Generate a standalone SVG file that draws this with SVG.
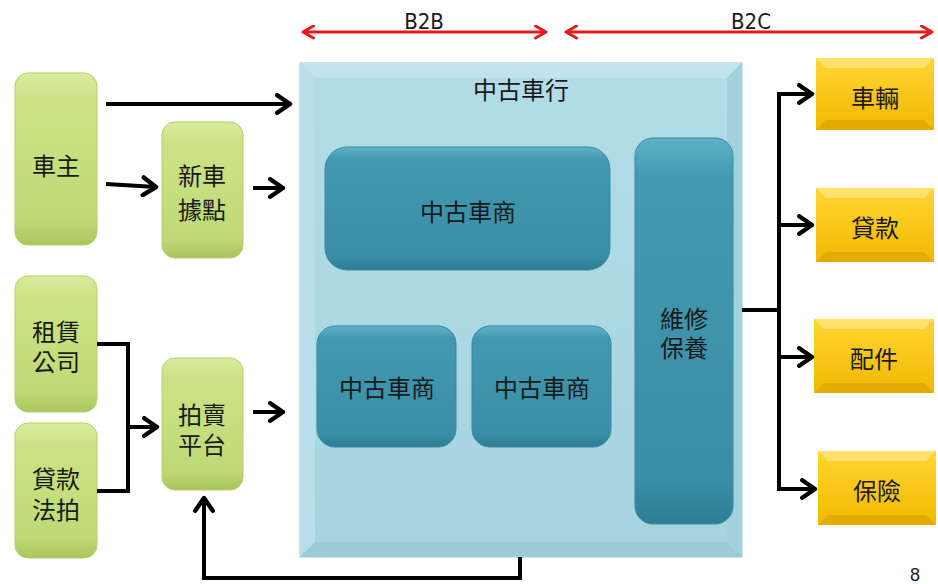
<svg xmlns="http://www.w3.org/2000/svg" width="938" height="584" viewBox="0 0 938 584">
<defs>
<style>
text{font-family:"Noto Sans CJK TC","Noto Sans",sans-serif;fill:#1a1a1a;text-anchor:middle;dominant-baseline:central}
.lbl{font-size:24px}
.en{font-family:"DejaVu Sans Condensed","DejaVu Sans",sans-serif;font-size:22px;dominant-baseline:alphabetic}
.g{fill:url(#gG);stroke:#b5cf6a;stroke-width:1}
.t{fill:url(#gT);stroke:#3a8aa1;stroke-width:1}
.y{fill:url(#gY)}
.conn{fill:none;stroke:#000;stroke-width:4}
.red{fill:none;stroke:#e21a1a;stroke-width:3}
</style>
<linearGradient id="gG" x1="0" y1="0" x2="0" y2="1">
<stop offset="0" stop-color="#d9ec9c"/><stop offset="0.15" stop-color="#cbe386"/><stop offset="0.85" stop-color="#bfd977"/><stop offset="1" stop-color="#a9c65c"/>
</linearGradient>
<linearGradient id="gT" x1="0" y1="0" x2="0" y2="1">
<stop offset="0" stop-color="#5fb2c8"/><stop offset="0.1" stop-color="#4299b0"/><stop offset="0.88" stop-color="#3a8ea6"/><stop offset="1" stop-color="#2e7d94"/>
</linearGradient>
<linearGradient id="gY" x1="0" y1="0" x2="0" y2="1">
<stop offset="0" stop-color="#ffd633"/><stop offset="1" stop-color="#f2b800"/>
</linearGradient>
<linearGradient id="gB" x1="0" y1="0" x2="0" y2="1">
<stop offset="0" stop-color="#b2dde8"/><stop offset="1" stop-color="#a6d3df"/>
</linearGradient>
<marker id="ah" viewBox="0 0 10 10" refX="8" refY="5" markerWidth="5.5" markerHeight="5.5" orient="auto" markerUnits="strokeWidth">
<path d="M2.2,1 L8,5 L2.2,9" fill="none" stroke="#000" stroke-width="2" stroke-linecap="round" stroke-linejoin="round"/>
</marker>
<marker id="rh" viewBox="0 0 10 10" refX="8" refY="5" markerWidth="5" markerHeight="5" orient="auto-start-reverse" markerUnits="strokeWidth">
<path d="M1,1 L8,5 L1,9" fill="none" stroke="#e21a1a" stroke-width="2" stroke-linecap="round" stroke-linejoin="round"/>
</marker>
</defs>
<rect width="938" height="584" fill="#fff"/>

<g id="scope">
<line class="red" x1="303" y1="32" x2="546" y2="32" marker-start="url(#rh)" marker-end="url(#rh)"/>
<line class="red" x1="566" y1="32" x2="932" y2="32" marker-start="url(#rh)" marker-end="url(#rh)"/>
<text class="en" x="424" y="29">B2B</text>
<text class="en" x="751" y="29">B2C</text>
</g>

<g id="dealer-lot">
<rect x="300" y="63" width="442" height="494" fill="#a8d4df" stroke="#98c8d4"/>
<polygon points="300,63 742,63 727,78 315,78" fill="#c2e4ed"/>
<polygon points="300,63 315,78 315,542 300,557" fill="#b8dfe9"/>
<polygon points="742,63 727,78 727,542 742,557" fill="#a2d0dc"/>
<polygon points="300,557 315,542 727,542 742,557" fill="#9ccbd7"/>
<rect x="315" y="78" width="412" height="464" fill="url(#gB)"/>
<text class="lbl" x="521" y="88">中古車行</text>
</g>

<g id="dealer-1"><rect class="t" x="325" y="147" width="285" height="123" rx="22"/><text class="lbl" x="468" y="210">中古車商</text></g>
<g id="dealer-2"><rect class="t" x="317" y="326" width="139" height="121" rx="18"/><text class="lbl" x="387" y="386">中古車商</text></g>
<g id="dealer-3"><rect class="t" x="472" y="326" width="139" height="121" rx="18"/><text class="lbl" x="542" y="386">中古車商</text></g>
<g id="maintenance"><rect class="t" x="635" y="138" width="98" height="386" rx="18"/><text class="lbl" x="684" y="317"><tspan x="684">維修</tspan><tspan x="684" dy="29">保養</tspan></text></g>

<g id="owner"><rect class="g" x="15" y="73" width="82" height="172" rx="13"/><text class="lbl" x="56" y="164">車主</text></g>
<g id="new-car"><rect class="g" x="162" y="122" width="81" height="136" rx="13"/><text class="lbl" x="202" y="174"><tspan x="202">新車</tspan><tspan x="202" dy="34">據點</tspan></text></g>
<g id="leasing"><rect class="g" x="15" y="276" width="82" height="136" rx="13"/><text class="lbl" x="56" y="330"><tspan x="56">租賃</tspan><tspan x="56" dy="30">公司</tspan></text></g>
<g id="loan-auction"><rect class="g" x="15" y="423" width="82" height="135" rx="13"/><text class="lbl" x="56" y="477"><tspan x="56">貸款</tspan><tspan x="56" dy="31">法拍</tspan></text></g>
<g id="auction"><rect class="g" x="162" y="358" width="81" height="132" rx="13"/><text class="lbl" x="202" y="413"><tspan x="202">拍賣</tspan><tspan x="202" dy="30">平台</tspan></text></g>

<g id="vehicle"><rect class="y" x="816" y="58" width="118" height="72"/><polygon points="816,58 934,58 924,68 826,68" fill="#ffe47a" opacity="0.8"/><polygon points="816,130 934,130 924,120 826,120" fill="#d9a200" opacity="0.6"/><text class="lbl" x="875" y="96">車輛</text></g>
<g id="loan"><rect class="y" x="816" y="188" width="118" height="74"/><polygon points="816,188 934,188 924,198 826,198" fill="#ffe47a" opacity="0.8"/><polygon points="816,262 934,262 924,252 826,252" fill="#d9a200" opacity="0.6"/><text class="lbl" x="875" y="226">貸款</text></g>
<g id="parts"><rect class="y" x="814" y="319" width="120" height="74"/><polygon points="814,319 934,319 924,329 824,329" fill="#ffe47a" opacity="0.8"/><polygon points="814,393 934,393 924,383 824,383" fill="#d9a200" opacity="0.6"/><text class="lbl" x="874" y="357">配件</text></g>
<g id="insurance"><rect class="y" x="818" y="451" width="118" height="74"/><polygon points="818,451 936,451 926,461 828,461" fill="#ffe47a" opacity="0.8"/><polygon points="818,525 936,525 926,515 828,515" fill="#d9a200" opacity="0.6"/><text class="lbl" x="877" y="489">保險</text></g>

<g id="connectors">
<line class="conn" x1="106" y1="104" x2="290" y2="104" marker-end="url(#ah)"/>
<line class="conn" x1="106" y1="184" x2="156" y2="187" marker-end="url(#ah)"/>
<line class="conn" x1="253" y1="188" x2="283" y2="188" marker-end="url(#ah)"/>
<polyline class="conn" points="97,344 128,344 128,491 97,491"/>
<line class="conn" x1="128" y1="427" x2="157" y2="427" marker-end="url(#ah)"/>
<line class="conn" x1="253" y1="412" x2="283" y2="412" marker-end="url(#ah)"/>
<polyline class="conn" points="520,557 520,578 204,578 204,498" marker-end="url(#ah)"/>
<line class="conn" x1="742" y1="310" x2="779" y2="310"/>
<line class="conn" x1="779" y1="94" x2="779" y2="490"/>
<line class="conn" x1="777" y1="94" x2="812" y2="94" marker-end="url(#ah)"/>
<line class="conn" x1="777" y1="225" x2="812" y2="225" marker-end="url(#ah)"/>
<line class="conn" x1="777" y1="357" x2="812" y2="357" marker-end="url(#ah)"/>
<line class="conn" x1="777" y1="489" x2="815" y2="489" marker-end="url(#ah)"/>
</g>
<text x="915" y="575" style="font-family:'Liberation Sans',sans-serif;font-size:18px">8</text>
</svg>
